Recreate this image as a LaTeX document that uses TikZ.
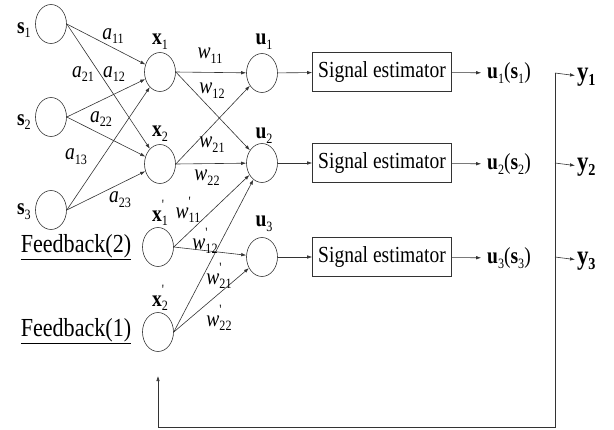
\documentclass[tikz,border=0pt]{standalone}
\usepackage{fontspec}
\setmainfont[FakeStretch=0.85]{Liberation Serif}
\usepackage{tikz}
\usetikzlibrary{arrows.meta,shapes.geometric}

\newcommand{\sbs}[1]{\raisebox{-0.45ex}{\scalebox{0.62}{#1}}}
\newcommand{\prm}{\rlap{\raisebox{1.1ex}{\scalebox{0.62}{\textquotesingle}}}}
\newcommand{\bsub}[2]{\textbf{#1}\sbs{#2}}
\newcommand{\bsubp}[2]{\textbf{#1}\prm\sbs{#2}}
\newcommand{\isub}[2]{\textit{#1}\sbs{#2}}
\newcommand{\isubp}[2]{\textit{#1}\prm\sbs{#2}}

\tikzset{
  neuron/.style={ellipse, draw=black!80, line width=0.6pt, minimum width=31pt, minimum height=39pt, inner sep=0pt},
  wire/.style={draw=black!80, line width=0.6pt},
  arr/.style={wire, -{Latex[length=5pt,width=3.5pt]}},
  estbox/.style={draw=black!80, line width=0.6pt, minimum width=139pt, minimum height=39pt, inner sep=0pt, font=\fontsize{23}{26}\selectfont},
  lbl/.style={inner sep=0pt, font=\fontsize{23}{25}\selectfont},
  outlbl/.style={lbl, outer sep=6pt},
  ylbl/.style={inner sep=0pt, outer sep=2pt, anchor=west, font=\fontsize{27}{29}\selectfont\bfseries},
  fblbl/.style={inner sep=0pt, font=\fontsize{26}{30}\selectfont}
}

\begin{document}
\begin{tikzpicture}[x=1pt, y=-1pt]
\useasboundingbox (0,0) rectangle (614,429);

% input layer
\node[neuron] (s1) at (51,24) {};
\node[neuron] (s2) at (51,117) {};
\node[neuron] (s3) at (51,210) {};
\node[lbl, anchor=east] (ls1) at (31,30) {\bsub{s}{1}};
\node[lbl, anchor=east] (ls2) at (31,122) {\bsub{s}{2}};
\node[lbl, anchor=east] (ls3) at (31,212) {\bsub{s}{3}};

% hidden layer and feedback inputs
\node[neuron] (x1) at (160,72) {};
\node[neuron] (x2) at (160,164) {};
\node[neuron] (x1p) at (158,247) {};
\node[neuron] (x2p) at (158,332) {};
\node[lbl] (lx1) at (160,42) {\bsub{x}{1}};
\node[lbl] (lx2) at (160,134) {\bsub{x}{2}};
\node[lbl] (lx1p) at (160,213) {\bsubp{x}{1}};
\node[lbl] (lx2p) at (160,298) {\bsubp{x}{2}};
\node[fblbl] (fb2) at (76,247) {\underline{Feedback(2)}};
\node[fblbl] (fb1) at (76,331) {\underline{Feedback(1)}};

% output layer
\node[neuron] (u1) at (262,73) {};
\node[neuron] (u2) at (262,163) {};
\node[neuron] (u3) at (262,257) {};
\node[lbl] (lu1) at (264,42) {\bsub{u}{1}};
\node[lbl] (lu2) at (264,136) {\bsub{u}{2}};
\node[lbl] (lu3) at (264,224) {\bsub{u}{3}};

% estimators
\node[estbox] (est1) at (382,72) {Signal estimator};
\node[estbox] (est2) at (382,163) {Signal estimator};
\node[estbox] (est3) at (382,257) {Signal estimator};
\node[outlbl] (us1) at (509,73) {\bsub{u}{1}(\bsub{s}{1})};
\node[outlbl] (us2) at (509,164) {\bsub{u}{2}(\bsub{s}{2})};
\node[outlbl] (us3) at (509,258) {\bsub{u}{3}(\bsub{s}{3})};
\node[ylbl] (y1) at (575,77) {y\sbs{1}};
\node[ylbl] (y2) at (575,167) {y\sbs{2}};
\node[ylbl] (y3) at (575,261) {y\sbs{3}};

% connections
\foreach \s in {s1,s2,s3}
  \foreach \x in {x1,x2}
    \draw[arr] (\s.east) -- (\x);
\foreach \x in {x1,x2}
  \foreach \u in {u1,u2}
    \draw[arr] (\x.east) -- (\u);
\foreach \x in {x1p,x2p}
  \foreach \u in {u2,u3}
    \draw[arr] (\x.east) -- (\u);
\foreach \i in {1,2,3} {
  \draw[arr] (u\i) -- (est\i);
  \draw[arr] (est\i) -- (us\i);
}

% weights
\node[lbl] (a11) at (113,36) {\isub{a}{11}};
\node[lbl] (a21) at (83,74) {\isub{a}{21}};
\node[lbl] (a12) at (114,74) {\isub{a}{12}};
\node[lbl] (a22) at (101,119) {\isub{a}{22}};
\node[lbl] (a13) at (76,157) {\isub{a}{13}};
\node[lbl] (a23) at (120,200) {\isub{a}{23}};
\node[lbl] (w11) at (210,56) {\isub{w}{11}};
\node[lbl] (w12) at (212,91) {\isub{w}{12}};
\node[lbl] (w21) at (212,145) {\isub{w}{21}};
\node[lbl] (w22) at (207,178) {\isub{w}{22}};
\node[lbl] (w11p) at (188,210) {\isubp{w}{11}};
\node[lbl] (w12p) at (205,241) {\isubp{w}{12}};
\node[lbl] (w21p) at (219,276) {\isubp{w}{21}};
\node[lbl] (w22p) at (219,318) {\isubp{w}{22}};

% outputs and feedback loop
\coordinate (bus1) at (555,73);
\coordinate (bus2) at (555,163);
\coordinate (bus3) at (555,257);
\coordinate (busend) at (555,427);
\coordinate (fbcorner) at (158,427);
\coordinate (fbtip) at (158,376);
\draw[arr] (bus1) -- (y1);
\draw[arr] (bus2) -- (y2);
\draw[arr] (bus3) -- (y3);
\draw[arr] (bus1) -- (busend) -- (fbcorner) -- (fbtip);
\end{tikzpicture}
\end{document}
